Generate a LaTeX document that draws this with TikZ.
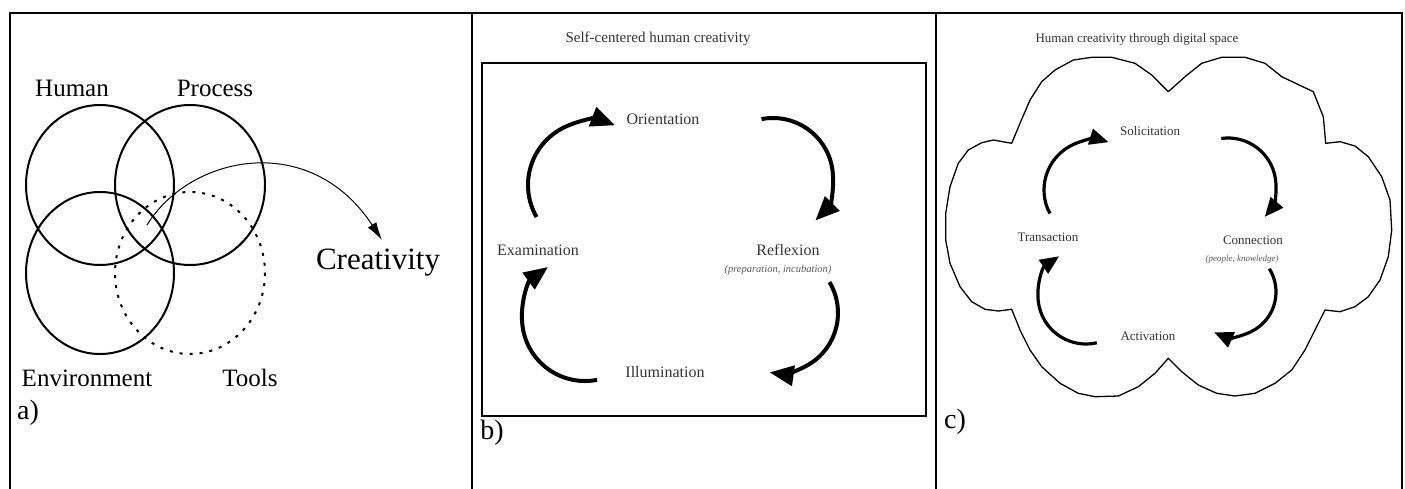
\documentclass[tikz,border=0pt]{standalone}
\usepackage{fontspec}
\setmainfont{Liberation Serif}
\usetikzlibrary{arrows.meta}
\tikzset{
  frameline/.style={line width=1.8pt},
  venn/.style={line width=2pt},
  toolsring/.style={line width=2pt, dash pattern=on 3pt off 7pt},
  biglabel/.style={font=\fontsize{25}{25}\selectfont, inner sep=0pt},
  blab/.style={font=\fontsize{16}{16}\selectfont, text=black!80, inner sep=0pt},
  clab/.style={font=\fontsize{13}{13}\selectfont, text=black!80, inner sep=0pt},
  bsub/.style={font=\itshape\fontsize{10.5}{10.5}\selectfont, text=black!65, inner sep=0pt},
  csub/.style={font=\itshape\fontsize{9}{9}\selectfont, text=black!65, inner sep=0pt},
  bcyc/.style={line width=4pt, -{Triangle[length=24pt,width=20pt]}},
  ccyc/.style={line width=3.2pt, -{Triangle[length=19pt,width=16pt]}},
}
\begin{document}
\begin{tikzpicture}[x=1pt,y=-1pt]
\useasboundingbox (0,0) rectangle (1405,488);
% outer frame
\draw[frameline] (10,500) -- (10,13) -- (1402,13) -- (1402,500);
\draw[frameline] (472,13) -- (472,500);
\draw[frameline] (936,13) -- (936,500);

% ---------- panel a ----------
\draw[venn] (100,185) ellipse[x radius=74, y radius=80];
\draw[venn] (190,185) ellipse[x radius=75, y radius=80];
\draw[venn] (100,273) ellipse[x radius=74, y radius=81];
\draw[toolsring] (190,273) ellipse[x radius=75, y radius=81];
\node[biglabel] (human) at (72,88) {Human};
\node[biglabel] (process) at (215,88) {Process};
\node[biglabel] (environment) at (87,378) {Environment};
\node[biglabel] (tools) at (250,378) {Tools};
\node[biglabel, font=\fontsize{31}{31}\selectfont] (creativity) at (378,263) {Creativity};
\node[biglabel, font=\fontsize{28}{28}\selectfont] (la) at (28,413) {a)};
\coordinate (core) at (147,225);
\coordinate (ctip) at (382,240);
\draw[line width=1pt, -{Latex[length=18pt,width=10pt]}] (core) .. controls (190,155) and (310,130) .. (ctip);

% ---------- panel b ----------
\node[font=\fontsize{15}{15}\selectfont, text=black!80, inner sep=0pt] (btitle) at (658,39) {Self-centered human creativity};
\draw[line width=1.8pt] (482,63) rectangle (926,416);
\node[blab] (orient) at (663,119) {Orientation};
\node[blab] (exam) at (538,250) {Examination};
\node[blab] (reflex) at (788,250) {Reflexion};
\node[bsub] (reflexsub) at (778,270) {(preparation, incubation)};
\node[blab] (illum) at (665,372) {Illumination};
\node[biglabel, font=\fontsize{28}{28}\selectfont] (lb) at (492,433) {b)};
\draw[bcyc] (592,185) ++(150:64) arc[start angle=150, end angle=291, radius=64];
\draw[bcyc] (773,178) ++(-101:60) arc[start angle=-101, end angle=45, radius=60];
\draw[bcyc] (778,313) ++(-31:60) arc[start angle=-31, end angle=98, radius=60];
\draw[bcyc] (585,318) ++(79:63) arc[start angle=79, end angle=234, radius=63];

% ---------- panel c ----------
\node[font=\fontsize{13}{13}\selectfont, text=black!80, inner sep=0pt] (ctitle) at (1137,39) {Human creativity through digital space};
\draw[line width=1.3pt, line join=round]
 (1168.3,91.7) -- (1151.7,75) -- (1135,63.3) -- (1111.7,57.3) -- (1091.7,57.3) -- (1073.3,60) -- (1055,70) -- (1041.7,81.7) -- (1030,100) -- (1020,123.3) -- (1011.7,143.3)
 -- (993.3,140) -- (981.7,142.7) -- (968.3,150) -- (958.3,163.3) -- (950,186.7) -- (945.7,213.3) -- (945.7,240) -- (950,263.3) -- (960,286.7) -- (971.7,301.7) -- (985,309.3) -- (998.3,311) -- (1011.7,309.3)
 -- (1020,330) -- (1030,350) -- (1041.7,366.7) -- (1060,383.3) -- (1078.3,393.3) -- (1095,396.7) -- (1118.3,396) -- (1138.3,386.7) -- (1155,373.3) -- (1168.3,358.3)
 -- (1181.7,371.7) -- (1198.3,385) -- (1216.7,393.3) -- (1235,396) -- (1255,393.3) -- (1275,383.3) -- (1291.7,370) -- (1305,350) -- (1315,330) -- (1325,310)
 -- (1340,311.7) -- (1355,306.7) -- (1368.3,296.7) -- (1380,280) -- (1388.3,256.7) -- (1391.7,230) -- (1390,200) -- (1381.7,176.7) -- (1368.3,156.7) -- (1355,146) -- (1340,141.7) -- (1325.7,143.3)
 -- (1323.3,116.7) -- (1313.3,91.7) -- (1281.7,76.7) -- (1265,63.3) -- (1245,57.3) -- (1221.7,57.3) -- (1201.7,63.3) -- (1185,76.7) -- cycle;
\node[clab] (solic) at (1150,131) {Solicitation};
\node[clab] (trans) at (1048,237) {Transaction};
\node[clab] (conn) at (1253,240) {Connection};
\node[csub] (connsub) at (1242,259) {(people, knowledge)};
\node[clab] (activ) at (1148,336) {Activation};
\node[biglabel, font=\fontsize{28}{28}\selectfont] (lc) at (955,422) {c)};
\draw[ccyc] (1094,190) ++(152:50) arc[start angle=152, end angle=287, radius=50];
\draw[ccyc] (1228,186) ++(-98:48) arc[start angle=-98, end angle=40, radius=48];
\draw[ccyc] (1232,292) ++(-32:44) arc[start angle=-32, end angle=114, radius=44];
\draw[ccyc] (1086,296) ++(77:48) arc[start angle=77, end angle=236, radius=48];
\end{tikzpicture}
\end{document}
